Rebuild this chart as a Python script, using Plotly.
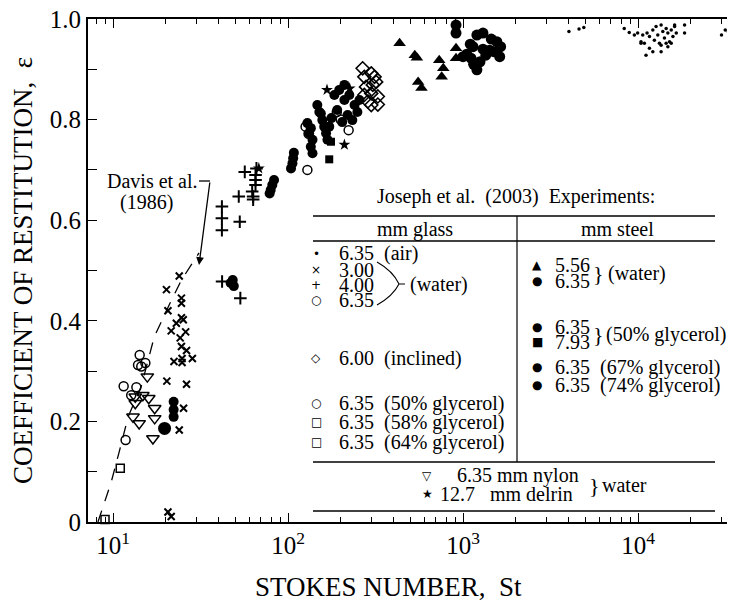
import plotly.graph_objects as go
import numpy as np

# ---------------- data (St, epsilon) ----------------
# glass 6.35 mm in air (small dots)
air_st = [4030, 4600, 4900, 8340, 8910, 9530, 9950, 10400, 10640, 10870, 11260, 11620,
          12150, 12400, 12680, 12970, 13250, 13550, 13860, 14160, 14480, 14810, 15140,
          15480, 15830, 16180, 16540, 13550, 14480, 15480, 11620, 11110, 12150, 13550,
          14810, 16180, 18450, 18450, 10400, 30000, 32800, 35000, 31500]
air_eps = [.975, .980, .983, .981, .973, .968, .972, .955, .968, .952, .972, .965,
           .978, .958, .985, .968, .952, .988, .975, .962, .981, .972, .955,
           .978, .965, .985, .972, .948, .952, .952, .942, .928, .935, .935,
           .945, .988, .988, .972, .952, .968, .975, .972, .978]
# glass 3.00 mm in water (x)
g300_st = [23.9, 20.2, 24.6, 24.6, 20.6, 21.5, 23.0, 24.6, 25.2, 26.0, 24.2, 24.6, 26.3,
           24.8, 28.4, 22.3, 24.8, 20.3, 26.3, 25.3, 23.9, 20.6, 21.5]
g300_eps = [.489, .462, .445, .435, .420, .380, .395, .406, .402, .378, .366, .349, .341,
            .325, .325, .319, .317, .280, .274, .226, .183, .020, .011]
# glass 4.00 mm in water (+)
g400_st = [56.6, 65.2, 65.2, 65.2, 62.4, 52.3, 63.2, 63.2, 41.9, 41.9, 41.9, 53.0, 42.0, 53.4, 66.0]
g400_eps = [.696, .690, .680, .670, .657, .647, .647, .641, .627, .604, .580, .597, .478, .445, .703]
# glass 6.35 mm in water (open circles)
g635w_st = [126, 131, 129, 222, 200, 190]
g635w_eps = [.786, .772, .700, .779, .800, .815]
# glass 6.00 mm inclined (open diamonds)
g600_st = [267, 273, 299, 312, 279, 305, 319, 273, 299, 326, 286, 299, 326]
g600_eps = [.902, .885, .892, .885, .865, .869, .875, .849, .852, .846, .836, .829, .830]
# glass 6.35 mm 50% glycerol (open circles)
g50_st = [14.2, 13.9, 15.3, 14.5, 11.5, 13.6, 12.7, 11.8]
g50_eps = [.332, .312, .316, .309, .270, .268, .252, .163]
# glass 6.35 mm 58% glycerol (open squares)
g58_st = [11.0]
g58_eps = [.107]
# glass 6.35 mm 64% glycerol (open squares)
g64_st = [9.0]
g64_eps = [.005]
# steel 5.56 mm in water (filled triangles)
s556_st = [434, 530, 545, 554, 579, 731, 771, 755, 912, 912]
s556_eps = [.952, .928, .923, .875, .863, .918, .902, .885, .942, .922]
# steel 6.35 mm in water (filled circles)
s635w_st = [912, 912, 1200, 1300, 1560, 1640, 1620, 1420, 1140, 1110, 1200, 1250, 1350,
            1050, 1100, 1300, 1450, 1150, 1000, 1500]
s635w_eps = [.988, .972, .968, .972, .955, .945, .925, .938, .945, .922, .899, .915, .928,
             .930, .950, .940, .960, .910, .925, .935]
# steel 6.35 mm 50% glycerol (filled circles)
s50_st = [129, 135, 132, 138, 135, 138, 154, 157, 161, 165, 168, 172, 184, 196, 210, 224,
          240, 256, 191, 219, 249, 204, 233, 177, 210, 147, 151]
s50_eps = [.793, .783, .773, .760, .746, .733, .812, .799, .786, .773, .760, .786, .849,
           .859, .839, .849, .829, .839, .819, .809, .815, .795, .799, .803, .869, .829, .815]
# steel 7.93 mm 50% glycerol (filled squares)
s793_st = [176, 172]
s793_eps = [.756, .721]
# steel 6.35 mm 67% glycerol (filled circles)
s67_st = [83.2, 81.3, 79.6, 78.5, 108, 107, 106, 104, 48.3, 49.0, 47.0]
s67_eps = [.680, .670, .660, .653, .734, .723, .713, .703, .481, .469, .475]
# steel 6.35 mm 74% glycerol (filled circles)
s74_st = [19.7, 22.2, 22.2, 22.2]
s74_eps = [.186, .239, .223, .209]
# 6.35 mm nylon in water (open down-triangles)
nyl_st = [15.7, 13.4, 14.8, 16.0, 17.3, 13.4, 17.3, 13.0, 14.1, 16.9]
nyl_eps = [.289, .249, .252, .246, .226, .236, .206, .209, .196, .166]
# 12.7 mm delrin in water (stars)
del_st = [210, 167, 225, 68.1]
del_eps = [.750, .859, .862, .703]
# Davis et al. (1986) curve
davis_st = [8.2, 9.74, 10.8, 12.2, 14.5, 17.2, 20.7, 24.6, 31.0]
davis_eps = [0.0, 0.078, 0.137, 0.209, 0.27, 0.368, 0.428, 0.481, 0.535]

x_tickvals = [10, 100, 1000, 10000]
x_ticktext = ["10<sup>1</sup>", "10<sup>2</sup>", "10<sup>3</sup>", "10<sup>4</sup>"]
y_tickvals = [0, 0.2, 0.4, 0.6, 0.8, 1.0]
y_ticktext = ["0", "0.2", "0.4", "0.6", "0.8", "1.0"]

SERIF = "Liberation Serif, Times New Roman, DejaVu Serif, serif"
SYM = "DejaVu Sans"
K = "black"
TS = 20  # table text size

fig = go.Figure()

fig.add_trace(go.Scatter(x=davis_st, y=davis_eps, mode="lines",
                         line=dict(color=K, width=1.3, dash="12px,10px"),
                         cliponaxis=False, hoverinfo="skip"))


def add(xs, ys, symbol, size, lw=1.4):
    fig.add_trace(go.Scatter(x=xs, y=ys, mode="markers", cliponaxis=False,
                             marker=dict(symbol=symbol, size=size, color=K,
                                         line=dict(color=K, width=lw))))


add(air_st, air_eps, "circle", 3.5, 0)
add(g300_st, g300_eps, "x-thin-open", 7, 2)
add(g400_st, g400_eps, "cross-thin-open", 9, 2)
add(g635w_st, g635w_eps, "circle-open", 9, 1.5)
add(g600_st, g600_eps, "diamond-open", 10, 1.6)
add(g50_st, g50_eps, "circle-open", 9, 1.5)
add(g58_st, g58_eps, "square-open", 8, 1.5)
add(g64_st, g64_eps, "square-open", 8, 1.5)
add(s556_st, s556_eps, "triangle-up", 11, 0)
add(s635w_st, s635w_eps, "circle", 11, 0)
add(s50_st, s50_eps, "circle", 10, 0)
add(s793_st, s793_eps, "square", 8, 0)
add(s67_st, s67_eps, "circle", 10, 0)
add(s74_st, s74_eps, "circle", 10, 0)
fig.add_trace(go.Scatter(x=[s74_st[0]], y=[s74_eps[0]], mode="markers", cliponaxis=False,
                         marker=dict(symbol="circle", size=13, color=K)))
add(nyl_st, nyl_eps, "triangle-down-open", 11, 1.5)
add(del_st, del_eps, "star", 9, 0)

# ---------------- placement helpers (page pixels -> paper fraction) ----------------
# the page has an 8 px body margin, so the plot area spans page x 88..735, y 19..522
OFF = 8
PL, PT, W, H = 88, 19, 647, 503
FW, FH = 735 - OFF, 601 - OFF


def px(x):
    return (x - PL) / W


def py(y):
    return (PT + H - y) / H


ann = []
shapes = []


def text(x, y, s, size=TS, anchor="left", family=SERIF):
    ann.append(dict(x=px(x), y=py(y), xref="paper", yref="paper", text=s, showarrow=False,
                    xanchor=anchor, yanchor="middle",
                    font=dict(family=family, size=size, color=K)))


def hline(x0, x1, y, w=1.3):
    shapes.append(dict(type="line", xref="paper", yref="paper", x0=px(x0), x1=px(x1),
                       y0=py(y), y1=py(y), line=dict(color=K, width=w)))


# table
text(516, 197, "Joseph et al.  (2003)  Experiments:", TS, "center")
hline(313, 715, 216)
hline(313, 715, 241)
hline(313, 715, 462)
hline(313, 715, 511)
shapes.append(dict(type="line", xref="paper", yref="paper", x0=px(517), x1=px(517),
                   y0=py(216), y1=py(462), line=dict(color=K, width=1.2)))
text(415, 229, "mm glass", TS, "center")
text(617, 229, "mm steel", TS, "center")

glass_rows = [("•", "6.35  (air)", 254), ("×", "3.00", 270), ("+", "4.00", 285),
              ("○", "6.35", 300), ("◇", "6.00  (inclined)", 358),
              ("○", "6.35  (50% glycerol)", 403), ("□", "6.35  (58% glycerol)", 422),
              ("□", "6.35  (64% glycerol)", 442)]
for sym, s, y in glass_rows:
    text(316, y, sym, 12, "center", SYM)
    text(337, y, s)
steel_rows = [("▲", "5.56", 265), ("●", "6.35", 281), ("●", "6.35", 327), ("■", "7.93", 342),
              ("●", "6.35  (67% glycerol)", 367), ("●", "6.35  (74% glycerol)", 385)]
for sym, s, y in steel_rows:
    text(537, y, sym, 12, "center", SYM)
    text(553, y, s)
text(591, 273, "}", 22)
text(606, 273, "(water)")
text(591, 334, "}", 22)
text(604, 334, "(50% glycerol)")
text(408, 284, "(water)")
shapes.append(dict(type="path", xref="paper", yref="paper",
                   path=f"M {px(377)} {py(262)} Q {px(393)} {py(271)} {px(399)} {py(284)} "
                        f"Q {px(393)} {py(296)} {px(377)} {py(305)} M {px(399)} {py(284)} L {px(405)} {py(284)}",
                   line=dict(color=K, width=1.1)))
text(427, 476, "▽", 12, "center", SYM)
text(455, 476, "6.35 mm nylon")
text(427, 494, "★", 12, "center", SYM)
text(438, 494, "12.7   mm delrin")
text(587, 485, "}", 22)
text(600, 485, "water")

# Davis annotation
text(152, 181, "Davis et al.", TS, "center")
text(146, 202, "(1986)", TS, "center")
shapes.append(dict(type="line", xref="paper", yref="paper", x0=px(199), x1=px(210),
                   y0=py(181), y1=py(181), line=dict(color=K, width=1.3)))
ann.append(dict(x=np.log10(31.0), y=0.511, xref="x", yref="y",
                ax=11, ay=-84, axref="pixel", ayref="pixel", text="",
                showarrow=True, arrowhead=2, arrowsize=1.2, arrowwidth=1.3, arrowcolor=K))

# axis titles
ann.append(dict(x=px(253), y=py(587), xref="paper", yref="paper",
                text="STOKES NUMBER,  St", showarrow=False, xanchor="left", yanchor="middle",
                font=dict(family=SERIF, size=27, color=K)))
ann.append(dict(x=px(23), y=py(271), xref="paper", yref="paper", textangle=-90,
                text="COEFFICIENT OF RESTITUTION,  ε", showarrow=False,
                xanchor="center", yanchor="middle", font=dict(family=SERIF, size=27, color=K)))

minor_x = [m * 10 ** d for d in range(0, 5) for m in range(2, 10) if 7 < m * 10 ** d < 40000]

fig.update_layout(
    width=FW, height=FH, showlegend=False, autosize=False,
    margin=dict(l=PL - OFF, r=FW - (PL - OFF) - W, t=PT - OFF, b=FH - (PT - OFF) - H, pad=0),
    plot_bgcolor="white", paper_bgcolor="white",
    annotations=ann, shapes=shapes,
    xaxis=dict(type="log", range=[0.857, 0.857 + W / 175.0], showgrid=False, zeroline=False,
               automargin=False, ticklabeloverflow="allow",
               showline=True, linecolor=K, linewidth=2, mirror="allticks",
               ticks="inside", ticklen=9, tickwidth=1.3, tickcolor=K,
               tickvals=x_tickvals, ticktext=x_ticktext,
               tickfont=dict(family=SERIF, size=25, color=K),
               minor=dict(ticks="inside", ticklen=5, tickwidth=1.1, tickcolor=K,
                          tickvals=minor_x, showgrid=False)),
    yaxis=dict(range=[0, 1], showgrid=False, zeroline=False, showline=True, linecolor=K,
               automargin=False, ticklabeloverflow="allow",
               linewidth=2, ticks="inside", ticklen=9, tickwidth=1.3, tickcolor=K,
               tickvals=y_tickvals, ticktext=y_ticktext,
               tickfont=dict(family=SERIF, size=25, color=K),
               minor=dict(ticks="inside", ticklen=9, tickwidth=1.3, tickcolor=K, dtick=0.1,
                          showgrid=False)),
)

fig.write_html("out.html")
